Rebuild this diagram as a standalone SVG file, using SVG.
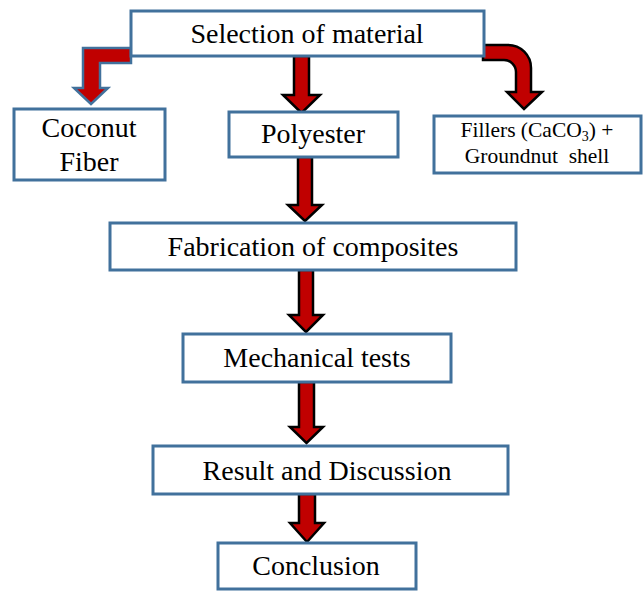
<svg xmlns="http://www.w3.org/2000/svg" width="643" height="591" viewBox="0 0 643 591">
<style>
.box{fill:#fff;stroke:#41719C;stroke-width:3}
.arr{fill:#C00000;stroke:#000;stroke-width:2.5;stroke-linejoin:miter}
.arrb{fill:#C00000;stroke:#41719C;stroke-width:2.5}
text{font-family:"Liberation Serif","Times New Roman",serif;font-size:28px;fill:#000;text-anchor:middle}
.sm{font-size:21.5px}
</style>
<rect width="643" height="591" fill="#fff"/>
<g id="connectors">
<path class="arrb" d="M131,48 L83,48 L83,88 L74,88 L91,104 L108,88 L100,88 L100,63 L131,63 Z"/>
<path class="arr" d="M483,45 L508,45 A23,23 0 0 1 531,68 L531,92 L542,92 L524,109 L507,92 L516,92 L516,72 A12,12 0 0 0 504,60 L483,60 Z"/>
<path class="arr" d="M294,56 L309,56 L309,95 L320,95 L301.5,113 L283,95 L294,95 Z"/>
<path class="arr" d="M298,157 L312,157 L312,205 L322,205 L305,221 L288,205 L298,205 Z"/>
<path class="arr" d="M299,270 L313,270 L313,315 L323,315 L306,332 L289,315 L299,315 Z"/>
<path class="arr" d="M299,382 L314,382 L314,427 L323,427 L306.5,443 L290,427 L299,427 Z"/>
<path class="arr" d="M299,494 L315,494 L315,523 L324,523 L307,542 L290,523 L299,523 Z"/>
</g>
<g id="selection"><rect class="box" x="131" y="11" width="353" height="45"/><text x="307" y="43">Selection of material</text></g>
<g id="coconut"><rect class="box" x="14" y="109" width="151" height="71"/><text x="89" y="137">Coconut</text><text x="89" y="171">Fiber</text></g>
<g id="polyester"><rect class="box" x="229" y="112" width="169" height="45"/><text x="313" y="143">Polyester</text></g>
<g id="fillers"><rect class="box" x="434" y="116" width="207" height="57"/><text class="sm" x="537" y="137">Fillers (CaCO<tspan font-size="14" dy="4">3</tspan><tspan dy="-4">) +</tspan></text><text class="sm" x="537" y="163">Groundnut&#160; shell</text></g>
<g id="fabrication"><rect class="box" x="110" y="223" width="406" height="47"/><text x="313" y="256">Fabrication of composites</text></g>
<g id="mechanical"><rect class="box" x="183" y="334" width="268" height="48"/><text x="317" y="367">Mechanical tests</text></g>
<g id="result"><rect class="box" x="153" y="446" width="355" height="48"/><text x="327" y="480">Result and Discussion</text></g>
<g id="conclusion"><rect class="box" x="218" y="543" width="198" height="46"/><text x="316" y="575">Conclusion</text></g>
</svg>
